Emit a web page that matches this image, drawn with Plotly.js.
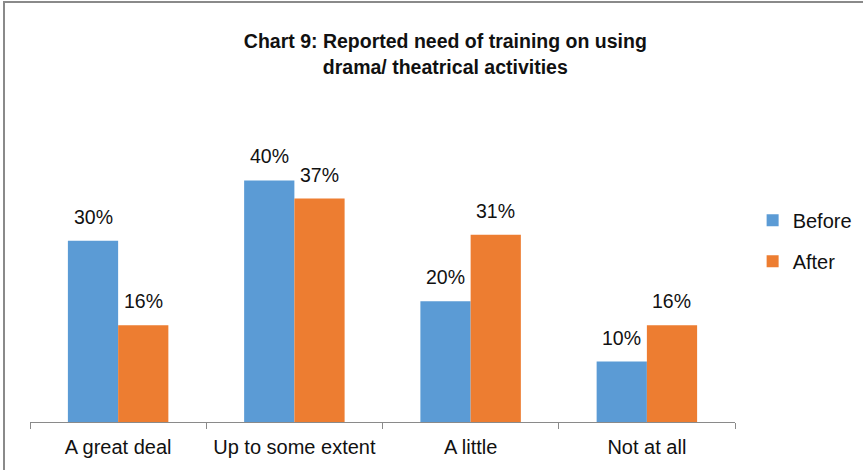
<!DOCTYPE html>
<html>
<head>
<meta charset="utf-8">
<script src="https://cdn.plot.ly/plotly-3.0.1.min.js"></script>
<style>
  html, body { margin: 0; padding: 0; background: #fff; }
  #wrap { position: relative; width: 863px; height: 470px; overflow: hidden; }
  #chart { width: 863px; height: 470px; }
  #frame { position: absolute; left: 3px; top: 1px; width: 1000px; height: 1000px;
           border-left: 2px solid #8a8a8a; border-top: 2px solid #8a8a8a; pointer-events: none; }
</style>
</head>
<body>
<div id="wrap">
  <div id="chart"></div>
  <div id="frame"></div>
</div>
<script>
const categories = ["A great deal", "Up to some extent", "A little", "Not at all"];
const beforeValues = [30, 40, 20, 10];
const afterValues = [16, 37, 31, 16];
const seriesNames = ["Before", "After"];
const titleText = "Chart 9: Reported need of training on using<br>drama/ theatrical activities";

const FONT = '"Liberation Sans", Arial, sans-serif';
const colors = ["#5B9BD5", "#ED7D31"];

const traces = [
  { type: "bar", name: seriesNames[0], x: categories, y: beforeValues,
    marker: { color: colors[0], line: { width: 0 } }, legendgroup: "a", hoverinfo: "skip" },
  { type: "bar", name: seriesNames[1], x: categories, y: afterValues,
    marker: { color: colors[1], line: { width: 0 } }, legendgroup: "b", hoverinfo: "skip" }
];

const annotations = [];
[beforeValues, afterValues].forEach((vals, s) => {
  vals.forEach((v, i) => {
    annotations.push({
      x: categories[i], y: v, xref: "x", yref: "y",
      text: v + "%", showarrow: false,
      xanchor: "center", yanchor: "bottom",
      xshift: s === 0 ? -25 : 25, yshift: 11,
      font: { family: FONT, size: 19.5, color: "#111" }
    });
  });
});

const layout = {
  width: 863, height: 470,
  margin: { l: 30, r: 128, t: 120, b: 48, autoexpand: false },
  paper_bgcolor: "#fff", plot_bgcolor: "#fff",
  barmode: "group", bargap: 0.43, bargroupgap: 0,
  title: {
    text: titleText, xref: "container", yref: "container",
    x: 0.516, xanchor: "center", y: 0.897, yanchor: "top",
    font: { family: FONT, size: 19.5, color: "#111", weight: "bold" }
  },
  xaxis: {
    type: "category", showline: true, linecolor: "#8a8a8a", linewidth: 1,
    ticks: "outside", tickson: "boundaries", ticklen: 6, tickcolor: "#8a8a8a",
    showgrid: false, zeroline: false, ticklabelstandoff: 7, tickangle: 0, automargin: false,
    tickfont: { family: FONT, size: 20, color: "#111" }
  },
  yaxis: {
    range: [0, 50], visible: false, showgrid: false, zeroline: false, automargin: false
  },
  legend: {
    x: 1.025, xanchor: "left", y: 0.6, yanchor: "middle",
    font: { family: FONT, size: 20, color: "#111" },
    traceorder: "grouped", tracegroupgap: 12, bgcolor: "rgba(0,0,0,0)"
  },
  annotations: annotations,
  showlegend: true
};

Plotly.newPlot("chart", traces, layout, { displayModeBar: false, staticPlot: true });
</script>
</body>
</html>
